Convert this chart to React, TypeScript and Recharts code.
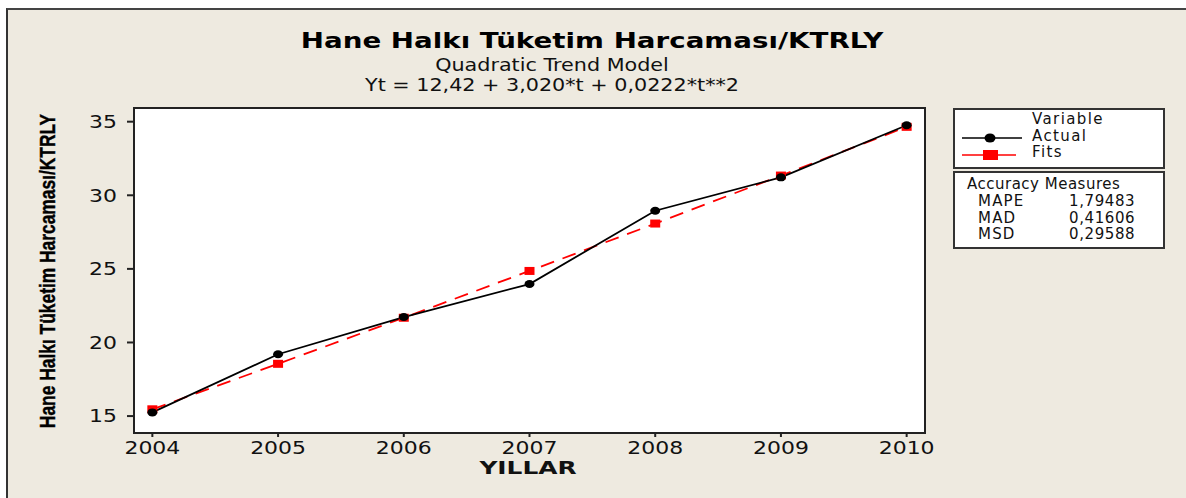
import React from 'react';
import { LineChart, Line, XAxis, YAxis, ReferenceArea } from 'recharts';

const years = [2004, 2005, 2006, 2007, 2008, 2009, 2010];
const actual = [15.25, 19.2, 21.73, 23.97, 28.95, 31.22, 34.76];
const fits = [15.46, 18.55, 21.68, 24.86, 28.08, 31.34, 34.65];
const yTicks = [15, 20, 25, 30, 35];
const xDomain: [number, number] = [2003.854, 2010.146];
const yDomain: [number, number] = [13.85, 35.93];

const accuracyLabels = ['MAPE', 'MAD', 'MSD'];
const accuracyValues = ['1,79483', '0,41606', '0,29588'];

const data = years.map((y, i) => ({ year: y, actual: actual[i], fits: fits[i] }));

const FONT = '"DejaVu Sans", Verdana, sans-serif';
const BG = '#EEEAE0';

const ActualDot = (props: any) => {
  const { cx, cy } = props;
  if (cx == null || cy == null) return null;
  return <ellipse cx={cx} cy={cy} rx={5} ry={4} fill="#000" />;
};
const FitDot = (props: any) => {
  const { cx, cy } = props;
  if (cx == null || cy == null) return null;
  return <rect x={cx - 5} y={cy - 4} width={10} height={8} fill="#FF0000" />;
};

const XTick = (props: any) => {
  const { x, y, payload } = props;
  return (
    <text transform={`translate(${x},${y}) scale(1.22,1)`} textAnchor="middle" dy="0.71em"
      fontSize={18} fontFamily={FONT} fill="#111">{payload.value}</text>
  );
};
const YTick = (props: any) => {
  const { x, y, payload } = props;
  return (
    <text transform={`translate(${x},${y}) scale(1.22,1)`} textAnchor="end" dy="0.355em"
      fontSize={18} fontFamily={FONT} fill="#111">{payload.value}</text>
  );
};

const abs = (l: number, t: number, extra: React.CSSProperties = {}): React.CSSProperties => ({
  position: 'absolute', left: l, top: t, whiteSpace: 'nowrap', ...extra,
});

const centered = (cx: number, t: number, sx: number, extra: React.CSSProperties = {}): React.CSSProperties => ({
  position: 'absolute', left: cx, top: t, whiteSpace: 'nowrap',
  transform: `translateX(-50%) scaleX(${sx})`, ...extra,
});

export default function App() {
  return (
    <div style={{ position: 'absolute', left: 0, top: 0, width: 1186, height: 498, overflow: 'hidden', background: '#fff' }}>
      <div style={{ position: 'absolute', left: 6, top: 8, width: 1200, height: 500, background: BG, borderTop: '2px solid #444', borderLeft: '2px solid #333' }} />
      <div style={{ position: 'absolute', left: 0, top: 0 }}>
        <LineChart width={1186} height={498} data={data} margin={{ top: 108, right: 261, bottom: 35, left: 94 }}>
          <ReferenceArea x1={xDomain[0]} x2={xDomain[1]} y1={yDomain[0]} y2={yDomain[1]} fill="#fff" fillOpacity={1} stroke="#222" strokeWidth={2} ifOverflow="visible" />
          <XAxis dataKey="year" type="number" domain={xDomain} ticks={years} allowDataOverflow
            height={30} tickSize={4} tickMargin={4} stroke="#222" strokeWidth={2}
            tick={<XTick />} interval={0} />
          <YAxis type="number" domain={yDomain} ticks={yTicks} allowDataOverflow width={40}
            tickSize={7} tickMargin={10} stroke="#222" strokeWidth={2}
            tick={<YTick />} interval={0} />
          <Line dataKey="fits" stroke="#FF0000" strokeWidth={1.8} strokeDasharray="14 9" dot={<FitDot />} activeDot={false} isAnimationActive={false} />
          <Line dataKey="actual" stroke="#000" strokeWidth={1.8} dot={<ActualDot />} activeDot={false} isAnimationActive={false} />
        </LineChart>
      </div>

      {/* Titles */}
      <div style={centered(592, 28, 1.26, { fontFamily: FONT, fontWeight: 'bold', fontSize: 22, color: '#000' })}>Hane Halkı Tüketim Harcaması/KTRLY</div>
      <div style={centered(552, 54, 1.15, { fontFamily: FONT, fontSize: 18, color: '#111' })}>Quadratic Trend Model</div>
      <div style={centered(552, 74, 1.15, { fontFamily: FONT, fontSize: 18, color: '#111' })}>Yt = 12,42 + 3,020*t + 0,0222*t**2</div>

      {/* Axis titles */}
      <div style={centered(528, 457, 1.38, { fontFamily: FONT, fontWeight: 'bold', fontSize: 18, color: '#111' })}>YILLAR</div>
      <div style={abs(48, 271, { transform: 'translate(-50%, -50%) rotate(-90deg) scaleX(0.79)', fontFamily: '"Liberation Sans", Arial, sans-serif', fontWeight: 'bold', fontSize: 22, color: '#000', WebkitTextStroke: '0.4px #000' })}>Hane Halkı Tüketim Harcaması/KTRLY</div>

      {/* Legend box */}
      <div style={{ position: 'absolute', left: 953, top: 108, width: 208, height: 57, background: '#fff', border: '2px solid #333' }} />
      <div style={abs(1032, 110, { fontFamily: FONT, fontSize: 15, letterSpacing: 1.4, color: '#111' })}>Variable</div>
      <div style={abs(1032, 127, { fontFamily: FONT, fontSize: 15, letterSpacing: 1.4, color: '#111' })}>Actual</div>
      <div style={abs(1032, 143, { fontFamily: FONT, fontSize: 15, letterSpacing: 1.4, color: '#111' })}>Fits</div>
      <svg style={{ position: 'absolute', left: 960, top: 130 }} width={70} height={34}>
        <line x1={2} y1={8} x2={62} y2={8} stroke="#000" strokeWidth={1.5} />
        <ellipse cx={30} cy={8} rx={5.5} ry={4.5} fill="#000" />
        <line x1={2} y1={25} x2={56} y2={25} stroke="#FF0000" strokeWidth={1.5} />
        <rect x={23} y={20} width={15} height={10} fill="#FF0000" />
      </svg>

      {/* Accuracy box */}
      <div style={{ position: 'absolute', left: 953, top: 171, width: 208, height: 74, background: '#fff', border: '2px solid #333' }} />
      <div style={abs(967, 175, { fontFamily: FONT, fontSize: 15, letterSpacing: 0.5, color: '#111' })}>Accuracy Measures</div>
      {accuracyLabels.map((l, i) => (
        <div key={l} style={abs(978, 192 + i * 16.5, { fontFamily: FONT, fontSize: 15, letterSpacing: 1.2, color: '#111' })}>{l}</div>
      ))}
      {accuracyValues.map((v, i) => (
        <div key={v} style={abs(1069, 192 + i * 16.5, { fontFamily: FONT, fontSize: 15, letterSpacing: 0.6, color: '#111' })}>{v}</div>
      ))}
    </div>
  );
}
